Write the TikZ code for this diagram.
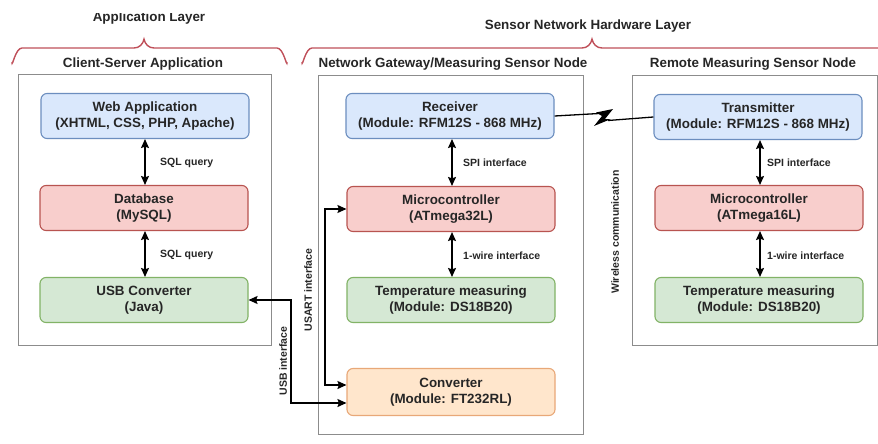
\documentclass[tikz,border=0pt]{standalone}
\usepackage{fontspec}
\setmainfont{Liberation Sans}
\usetikzlibrary{arrows.meta}
\definecolor{bluefill}{HTML}{DAE8FC}
\definecolor{blueline}{HTML}{6C8EBF}
\definecolor{redfill}{HTML}{F8CECC}
\definecolor{redline}{HTML}{B85450}
\definecolor{greenfill}{HTML}{D5E8D4}
\definecolor{greenline}{HTML}{82B366}
\definecolor{orangefill}{HTML}{FFE6CC}
\definecolor{orangeline}{HTML}{E8A878}
\definecolor{contline}{HTML}{8C8C8C}
\definecolor{bracecol}{HTML}{C0505A}
\definecolor{txt}{HTML}{262626}
\tikzset{
  box/.style={draw, rounded corners=6pt, line width=1.1pt, minimum width=208pt,
    minimum height=45pt, inner sep=0pt, align=center, text=txt,
    font=\fontsize{13.4}{16}\selectfont\bfseries},
  bluebox/.style={box, fill=bluefill, draw=blueline},
  redbox/.style={box, fill=redfill, draw=redline},
  greenbox/.style={box, fill=greenfill, draw=greenline},
  orangebox/.style={box, fill=orangefill, draw=orangeline},
  container/.style={draw=contline, line width=0.9pt},
  ttl/.style={anchor=base, text=txt, inner sep=0pt, font=\fontsize{13.4}{15}\selectfont\bfseries},
  lbl/.style={anchor=west, text=txt, inner sep=0pt, font=\fontsize{10.5}{12}\selectfont\bfseries},
  rlbl/.style={rotate=90, text=txt, inner sep=0pt, font=\fontsize{10.5}{12}\selectfont\bfseries},
  brace/.style={draw=bracecol, line width=1.4pt},
  dbl/.style={line width=1.6pt, {Stealth[length=9pt,width=8pt,inset=1.5pt]}-{Stealth[length=9pt,width=8pt,inset=1.5pt]}},
}
\begin{document}
\begin{tikzpicture}[x=1pt,y=-1pt]
\useasboundingbox (0,0) rectangle (878,444);
\fill[white] (0,0) rectangle (878,444);
\begin{scope}
\clip (0,14) rectangle (878,444);

% layer titles and braces
\node[ttl] (applayer) at (149,22) {Application Layer};
\node[ttl] (hwlayer) at (588,30) {Sensor Network Hardware Layer};
\draw[brace] (12,62) to[out=-90,in=180] (22,48) -- (134,48) to[out=0,in=-100] (144,39)
  to[out=-80,in=180] (154,48) -- (277,48) to[out=0,in=-90] (287,62);
\draw[brace] (302,62) to[out=-90,in=180] (312,48) -- (582,48) to[out=0,in=-100] (592,39)
  to[out=-80,in=180] (602,48) -- (900,48);

% containers
\draw[container] (18,74) rectangle (271,345);
\draw[container] (318,75) rectangle (583,434);
\draw[container] (632,75) rectangle (877,345);
\node[ttl] (t1) at (143,67) {Client-Server Application};
\node[ttl] (t2) at (453,67) {Network Gateway/Measuring Sensor Node};
\node[ttl] (t3) at (753,67) {Remote Measuring Sensor Node};

% boxes
\node[bluebox] (web) at (145,116) {Web Application\\(XHTML, CSS, PHP, Apache)};
\node[redbox] (db) at (144,208) {Database\\(MySQL)};
\node[greenbox] (usb) at (144,300) {USB Converter\\(Java)};

\node[bluebox] (rx) at (450,116) {Receiver\\(Module: RFM12S - 868 MHz)};
\node[redbox] (mc1) at (451,209) {Microcontroller\\(ATmega32L)};
\node[greenbox] (tm1) at (451,300) {Temperature measuring\\(Module: DS18B20)};
\node[orangebox, minimum height=47pt] (conv) at (451,392) {Converter\\(Module: FT232RL)};

\node[bluebox] (tx) at (758,117) {Transmitter\\(Module: RFM12S - 868 MHz)};
\node[redbox] (mc2) at (759,208) {Microcontroller\\(ATmega16L)};
\node[greenbox] (tm2) at (759,300) {Temperature measuring\\(Module: DS18B20)};

% vertical links
\draw[dbl] (web.south -| 145,0) -- (db.north -| 145,0);
\draw[dbl] (db.south -| 145,0) -- (usb.north -| 145,0);
\draw[dbl] (rx.south -| 452,0) -- (mc1.north -| 452,0);
\draw[dbl] (mc1.south -| 452,0) -- (tm1.north -| 452,0);
\draw[dbl] (tx.south -| 760,0) -- (mc2.north -| 760,0);
\draw[dbl] (mc2.south -| 760,0) -- (tm2.north -| 760,0);

\node[lbl] (l1) at (160,163) {SQL query};
\node[lbl] (l2) at (160,255) {SQL query};
\node[lbl] (l3) at (463,163) {SPI interface};
\node[lbl] (l4) at (463,256) {1-wire interface};
\node[lbl] (l5) at (767,163) {SPI interface};
\node[lbl] (l6) at (767,256) {1-wire interface};

% USB and USART links
\coordinate (usbx) at (291,0);
\coordinate (usartx) at (325,0);
\coordinate (convlow) at ([yshift=-11pt]conv.west);
\coordinate (convhigh) at ([yshift=7pt]conv.west);
\draw[dbl] (usb.east) -- (usbx |- usb.east) -- (usbx |- convlow) -- (convlow);
\draw[dbl] (mc1.west) -- (usartx |- mc1.west) -- (usartx |- convhigh) -- (convhigh);
\node[rlbl] (l7) at (283,361) {USB interface};
\node[rlbl] (l8) at (308,290) {USART interface};

% wireless link
\draw[line width=1.3pt] (rx.east) -- (599,113.5);
\draw[line width=1.3pt] (608,120.5) -- (tx.west);
\fill (596,112.5) -- (613,109) -- (605,119) -- (611,119) -- (594,126) -- (602,116) -- cycle;
\node[rlbl] (l9) at (615,232) {Wireless communication};
\end{scope}
\end{tikzpicture}
\end{document}
